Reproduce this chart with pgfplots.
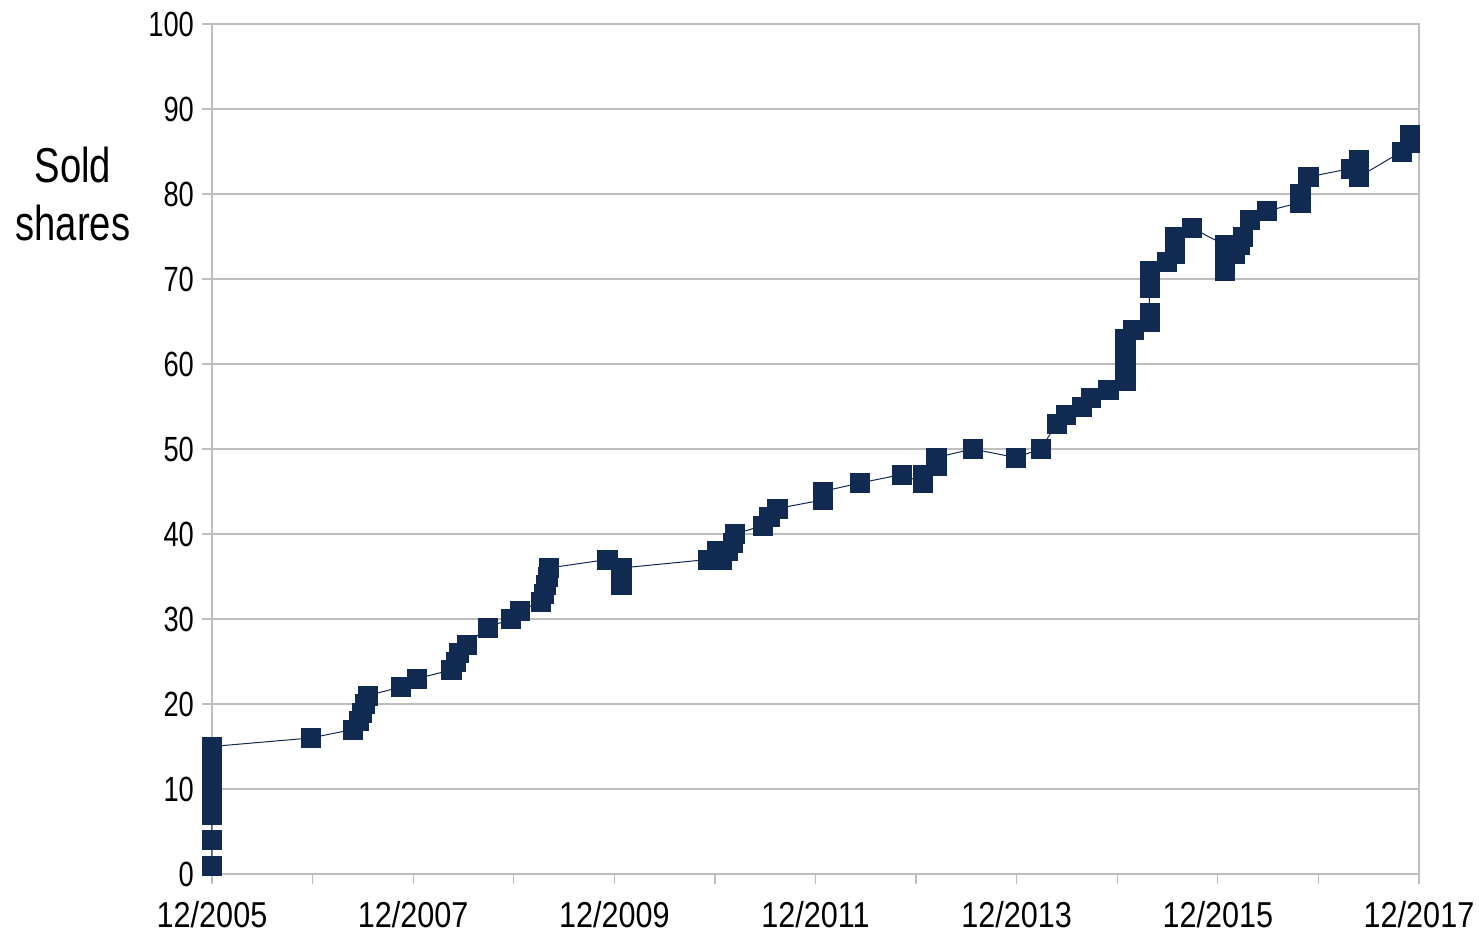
\documentclass[border=0pt]{standalone}
\usepackage{pgfplots}
\pgfplotsset{compat=1.18}
\usepackage{fontspec}
\setmainfont{Liberation Sans}[FakeStretch=0.78]
\definecolor{navy}{RGB}{17,42,82}
\definecolor{gridgray}{RGB}{190,190,190}
\begin{document}
\begin{tikzpicture}
\path[use as bounding box] (-106pt,-31pt) rectangle (633.5pt,437pt);
\begin{axis}[
  name=ax,
  at={(0,0)}, anchor=south west,
  scale only axis,
  width=603.5pt, height=425pt,
  xmin=0, xmax=12, ymin=0, ymax=100,
  clip=false,
  axis line style={gridgray, line width=0.6pt},
  xtick={0,1,...,12},
  xticklabels={12/2005,,12/2007,,12/2009,,12/2011,,12/2013,,12/2015,,12/2017},
  ytick={0,10,...,100},
  tick pos=left,
  tick align=outside,
  major tick length=5pt,
  tick style={gridgray, line width=0.6pt},
  ymajorgrids,
  grid style={gridgray, line width=0.6pt},
  /pgf/number format/assume math mode=true,
  ticklabel style={font=\fontsize{17.5}{20}\selectfont, text=black},
  xticklabel style={yshift=-5pt, font=\fontsize{18}{20}\selectfont\addfontfeature{FakeStretch=0.85}},
  yticklabel style={xshift=-0.5pt},
]
\addplot[navy, line width=0.5pt, mark=square*, mark size=4.8pt,
  mark options={fill=navy, draw=navy, line width=0.3pt}] coordinates {
(0,1) (0,4) (0,7) (0,8) (0,9) (0,10) (0,11) (0,12) (0,13) (0,14) (0,15)
(0.98,16) (1.40,17) (1.46,18) (1.49,19) (1.52,20) (1.55,21)
(1.88,22) (2.04,23) (2.38,24) (2.42,25) (2.45,26) (2.53,27)
(2.74,29) (2.97,30) (3.06,31) (3.27,32) (3.30,33) (3.32,34) (3.34,35) (3.35,36)
(3.93,37) (4.07,34) (4.07,35) (4.07,36)
(4.93,37) (5.02,38) (5.07,37) (5.13,38) (5.18,39) (5.20,40)
(5.48,41) (5.54,42) (5.62,43) (6.07,44) (6.07,45) (6.44,46)
(6.86,47) (7.07,46) (7.07,47) (7.20,48) (7.20,49) (7.56,50) (7.99,49)
(8.24,50) (8.40,53) (8.49,54) (8.65,55) (8.74,56) (8.91,57)
(9.08,58) (9.08,59) (9.08,60) (9.08,61) (9.08,62) (9.08,63) (9.16,64)
(9.32,65) (9.32,66) (9.32,69) (9.32,70) (9.32,71)
(9.49,72) (9.57,73) (9.57,74) (9.57,75) (9.74,76)
(10.07,74) (10.07,73) (10.07,72) (10.07,71)
(10.17,73) (10.22,74) (10.25,75) (10.32,77) (10.49,78)
(10.82,79) (10.82,80) (10.90,82)
(11.32,83) (11.40,84) (11.40,83) (11.40,82)
(11.83,85) (11.91,86) (11.91,87)
};
\node[align=center, font=\fontsize{24.5}{29}\selectfont, xshift=-69.5pt] at (rel axis cs:0,0.8) {Sold\\shares};
\end{axis}
\end{tikzpicture}
\end{document}
